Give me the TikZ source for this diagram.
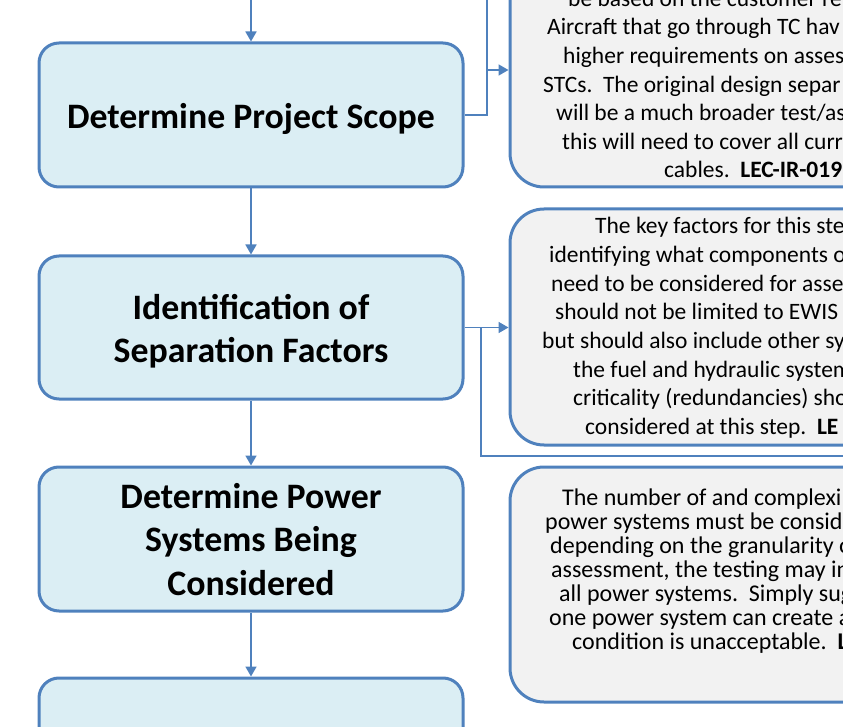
\documentclass[tikz,border=0pt]{standalone}
\usepackage{fontspec}
\setmainfont{Carlito}
\usetikzlibrary{arrows.meta}
\definecolor{bord}{RGB}{79,129,189}
\definecolor{lfill}{RGB}{219,238,244}
\definecolor{rfill}{RGB}{242,242,242}
\begin{document}
\begin{tikzpicture}[x=1pt,y=-1pt,
  stepbox/.style={draw=bord, line width=3pt, fill=lfill, rounded corners=20pt, minimum width=424pt, minimum height=144pt, inner sep=0pt},
  titletext/.style={align=center, font=\fontsize{35.8}{43.2}\selectfont\bfseries, inner sep=0pt},
  notebox/.style={draw=bord, line width=3pt, fill=rfill, rounded corners=34pt, inner sep=0pt},
  conn/.style={draw=bord, line width=1.75pt},
  arr/.style={conn, -{Triangle[length=10pt,width=11pt]}},
  ln/.style={anchor=base west, inner sep=0pt, font=\fontsize{23.5}{28.6}\selectfont},
  lnc/.style={anchor=base west, inner sep=0pt, font=\fontsize{24}{24}\selectfont}]
\useasboundingbox (0,0) rectangle (843,727);
\clip (0,0) rectangle (843,727);
% left step boxes
\node[stepbox] (s1) at (251,115) {};
\node[stepbox, minimum height=143pt] (s2) at (251,327.5) {};
\node[stepbox] (s3) at (251,539) {};
\node[stepbox] (s4) at (251,750) {};
\node[titletext] (s1t) at (251,119) {Determine Project Scope};
\node[titletext] (s2t) at (251,331) {Identification of\\Separation Factors};
\node[titletext] (s3t) at (251,539.5) {Determine Power\\Systems Being\\Considered};
% right note boxes
\node[notebox, minimum width=500pt, minimum height=247pt] (nA) at (760,63.5) {};
\node[notebox, minimum width=500pt, minimum height=236pt] (nB) at (760,327) {};
\node[notebox, minimum width=500pt, minimum height=235pt] (nC) at (760,584.5) {};
% connectors
\coordinate (t1) at (251,-5);
\draw[arr] (t1) -- (s1.north);
\draw[arr] (s1.south) -- (s2.north);
\draw[arr] (s2.south) -- (s3.north);
\draw[arr] (s3.south) -- (s4.north);
\coordinate (a1top) at (487,-5);
\draw[conn] (s1.east) -| (a1top);
\coordinate (j1) at (487,70);
\draw[arr] (j1) -- (j1 -| nA.west);
\draw[arr] (s2.east) -- (s2.east -| nB.west);
\coordinate (j2) at (481,327.5);
\coordinate (e2) at (850,456);
\draw[conn] (j2) |- (e2);
% text of box A
\node[ln] (a1) at (568,6.4) {be based on the customer re};
\node[ln] (a2) at (547,35) {Aircraft that go through TC hav};
\node[ln] (a3) at (563,63.6) {higher requirements on asses};
\node[ln] (a4) at (543,92.2) {STCs.\ \ The original design separ};
\node[ln] (a5) at (556,120.8) {will be a much broader test/as};
\node[ln] (a6) at (562,149.4) {this will need to cover all curr};
\node[ln] (a7) at (664,178) {cables.\ \ \textbf{LEC-IR-019}};
% text of box B
\node[ln] (b1) at (595,234) {The key factors for this ste};
\node[ln] (b2) at (549,262.6) {identifying what components o};
\node[ln] (b3) at (551,291.2) {need to be considered for asse};
\node[ln] (b4) at (555,319.8) {should not be limited to EWIS};
\node[ln] (b5) at (542,348.4) {but should also include other sy};
\node[ln] (b6) at (573,377) {the fuel and hydraulic system};
\node[ln] (b7) at (573,405.6) {criticality (redundancies) sho};
\node[ln] (b8) at (585,434.2) {considered at this step.\ \ \textbf{LE}};
% text of box C
\node[lnc] (c1) at (562,505) {The number of and complexi};
\node[lnc] (c2) at (545,529) {power systems must be consid};
\node[lnc] (c3) at (550,553) {depending on the granularity o};
\node[lnc] (c4) at (551,577) {assessment, the testing may in};
\node[lnc] (c5) at (559,601) {all power systems.\ \ Simply sug};
\node[lnc] (c6) at (549,625) {one power system can create a};
\node[lnc] (c7) at (572,649) {condition is unacceptable.\ \ \textbf{L}};
\end{tikzpicture}
\end{document}
